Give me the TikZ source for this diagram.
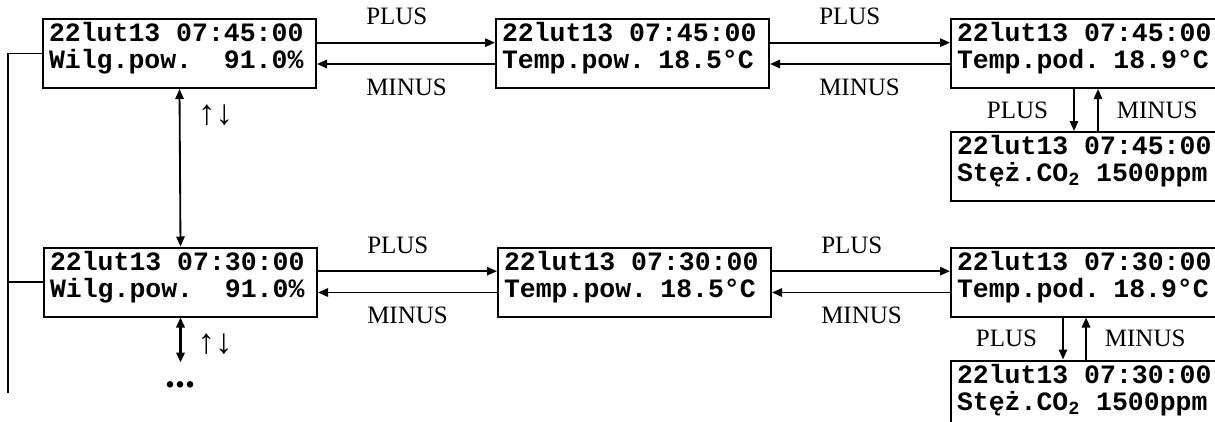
\documentclass[tikz,border=0pt]{standalone}
\usepackage{fontspec}
\setmainfont{Liberation Serif}
\newfontfamily\lcdfont{Liberation Mono}
\usetikzlibrary{arrows.meta}

\tikzset{
    ekran/.style={draw, line width=1.2pt, anchor=north west, align=left,
        text width=156.6pt, inner xsep=3.6pt, inner ysep=0pt,
        text height=13.5pt, text depth=27.9pt,
        font=\lcdfont\bfseries\fontsize{15.9pt}{16.2pt}\selectfont,
        execute at begin node={\spaceskip=0.6em\relax}},
    strzalka/.style={->, line width=1.1pt},
    opis/.style={inner sep=0pt, font=\fontsize{15pt}{17pt}\selectfont}
}

\begin{document}
\begin{tikzpicture}[x=0.6pt, y=-0.6pt, >={Triangle[length=6pt,width=5pt]}]
    \useasboundingbox (0,0) rectangle (1215,421);
    \node[ekran] (a1) at (42,18) {22lut13 07:45:00\\Wilg.pow.\ \ 91.0\%};
    \node[ekran] (b1) at (495,18) {22lut13 07:45:00\\Temp.pow. 18.5°C};
    \node[ekran] (c1) at (950,18) {22lut13 07:45:00\\Temp.pod. 18.9°C};
    \node[ekran] (d1) at (950,131) {22lut13 07:45:00\\Stęż.CO\textsubscript{2} 1500ppm};
    \node[ekran] (a2) at (43,246.5) {22lut13 07:30:00\\Wilg.pow.\ \ 91.0\%};
    \node[ekran] (b2) at (497,246.5) {22lut13 07:30:00\\Temp.pow. 18.5°C};
    \node[ekran] (c2) at (950,246.5) {22lut13 07:30:00\\Temp.pod. 18.9°C};
    \node[ekran] (d2) at (950,359.5) {22lut13 07:30:00\\Stęż.CO\textsubscript{2} 1500ppm};
    \foreach \l/\p in {a1/b1, b1/c1, a2/b2, b2/c2} {
        \draw[strzalka] ([yshift=6.5pt]\l.east) -- ([yshift=6.5pt]\p.west)
        node[opis, pos=0, anchor=south west, xshift=29pt, yshift=10.2pt] {PLUS};
        \draw[strzalka] ([yshift=-6.3pt]\p.west) -- ([yshift=-6.3pt]\l.east)
        node[opis, pos=1, anchor=north west, xshift=29pt, yshift=-8.4pt] {MINUS};
    }
    \foreach \g/\d/\s/\t in {c1/d1/-8.1pt/6.3pt, c2/d2/-14.7pt/-0.9pt} {
        \draw[strzalka] ([xshift=\s]\g.south) -- ([xshift=\s]\d.north)
        node[opis, midway, anchor=east, xshift=-15pt] {PLUS};
        \draw[strzalka] ([xshift=\t]\d.north) -- ([xshift=\t]\g.south)
        node[opis, midway, anchor=west, xshift=10.8pt] {MINUS};
    }
    \draw[strzalka, <->] (a1.south) -- (a2.north);
    \node[opis, anchor=west, font=\fontsize{21pt}{21pt}\selectfont] (ud1) at ([xshift=11pt, yshift=-15.6pt]a1.south) {↑↓};
    \coordinate (dalej) at ([yshift=-27pt]a2.south);
    \draw[<->, line width=1.7pt] (a2.south) -- (dalej);
    \node[opis, anchor=west, font=\fontsize{21pt}{21pt}\selectfont] (ud2) at ([xshift=10pt, yshift=-15.9pt]a2.south) {↑↓};
    \node[inner sep=0pt, anchor=base, font=\bfseries\fontsize{24pt}{24pt}\selectfont] (kropki) at (180,387) {...};
    \coordinate (szyna) at (8,393);
    \draw[line width=1pt] (a1.west) -| (szyna);
    \draw[line width=1pt] (a2.west) -- (a2.west -| szyna);
\end{tikzpicture}
\end{document}
